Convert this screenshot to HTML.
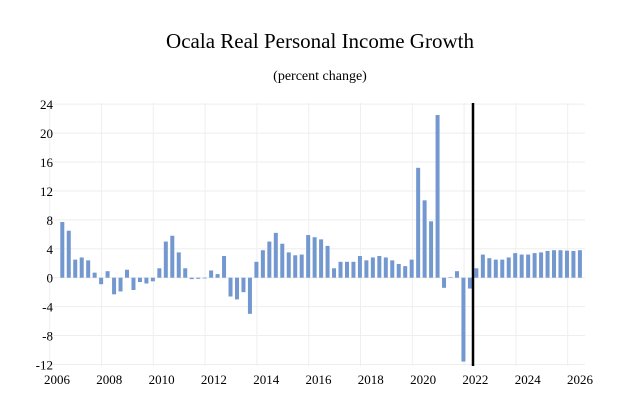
<!DOCTYPE html>
<html><head><meta charset="utf-8"><style>
body{margin:0;background:#fff;}
svg text{font-family:"Liberation Serif",serif;fill:#000;}
</style></head><body>
<svg width="627" height="415">
<text x="320" y="48" text-anchor="middle" font-size="21">Ocala Real Personal Income Growth</text>
<text x="320" y="80" text-anchor="middle" font-size="14">(percent change)</text>
<g id="grid"></g><g id="bars"></g><g id="yt"></g><g id="xt"></g>
<line x1="473" y1="103" x2="473" y2="366" stroke="#000" stroke-width="2.5"/>
</svg>
<script>
const values=[7.7,6.5,2.5,2.8,2.4,0.7,-0.9,0.9,-2.3,-1.9,1.1,-1.7,-0.6,-0.8,-0.5,1.3,5.0,5.8,3.5,1.3,-0.2,-0.15,-0.1,1.0,0.5,3.0,-2.6,-3.0,-2.0,-5.0,2.2,3.8,5.0,6.2,4.7,3.5,3.1,3.2,5.9,5.6,5.3,4.4,1.3,2.2,2.2,2.2,3.0,2.4,2.8,3.0,2.8,2.4,1.9,1.6,2.5,15.2,10.7,7.8,22.5,-1.4,0.05,0.9,-11.6,-1.5,1.3,3.2,2.7,2.5,2.5,2.8,3.4,3.2,3.2,3.4,3.5,3.7,3.8,3.8,3.75,3.7,3.8];
const yTicks=[24,20,16,12,8,4,0,-4,-8,-12];
const yLabels=["24","20","16","12","8","4","0","-4","-8","-12"];
const xLabels=["2006","2008","2010","2012","2014","2016","2018","2020","2022","2024","2026"];
const NS="http://www.w3.org/2000/svg";
const y=v=>277.7-(v)*7.23;
const x=i=>62.3+i*6.47;
function mk(t,a,p){const e=document.createElementNS(NS,t);for(const k in a)e.setAttribute(k,a[k]);document.getElementById(p).appendChild(e);return e;}
yTicks.forEach((t,i)=>{
 const g=mk('line',{x1:50,x2:585,y1:y(t),y2:y(t),stroke:'#eeeeee','stroke-width':1},'grid');
 
 
 const l=mk('text',{x:53,y:y(t)+5,'text-anchor':'end','font-size':13},'yt');
 l.textContent=yLabels[i];
 
 
});
xLabels.forEach((s,i)=>{
 const gx=49.7+i*51.8;
 const g=mk('line',{x1:gx,x2:gx,y1:103,y2:366,stroke:'#eeeeee','stroke-width':1},'grid');
 
 
 const l=mk('text',{x:57+i*52.3,y:384,'text-anchor':'middle','font-size':13},'xt');
 l.textContent=s;
 
 
});
values.forEach((v,i)=>{
 const y0=y(0),yv=y(v);
 const b=mk('rect',{x:x(i)-2,y:Math.min(y0,yv),width:4,height:Math.max(Math.abs(yv-y0),0.6),fill:'#7397cf'},'bars');
 
 
});
</script>
</body></html>
